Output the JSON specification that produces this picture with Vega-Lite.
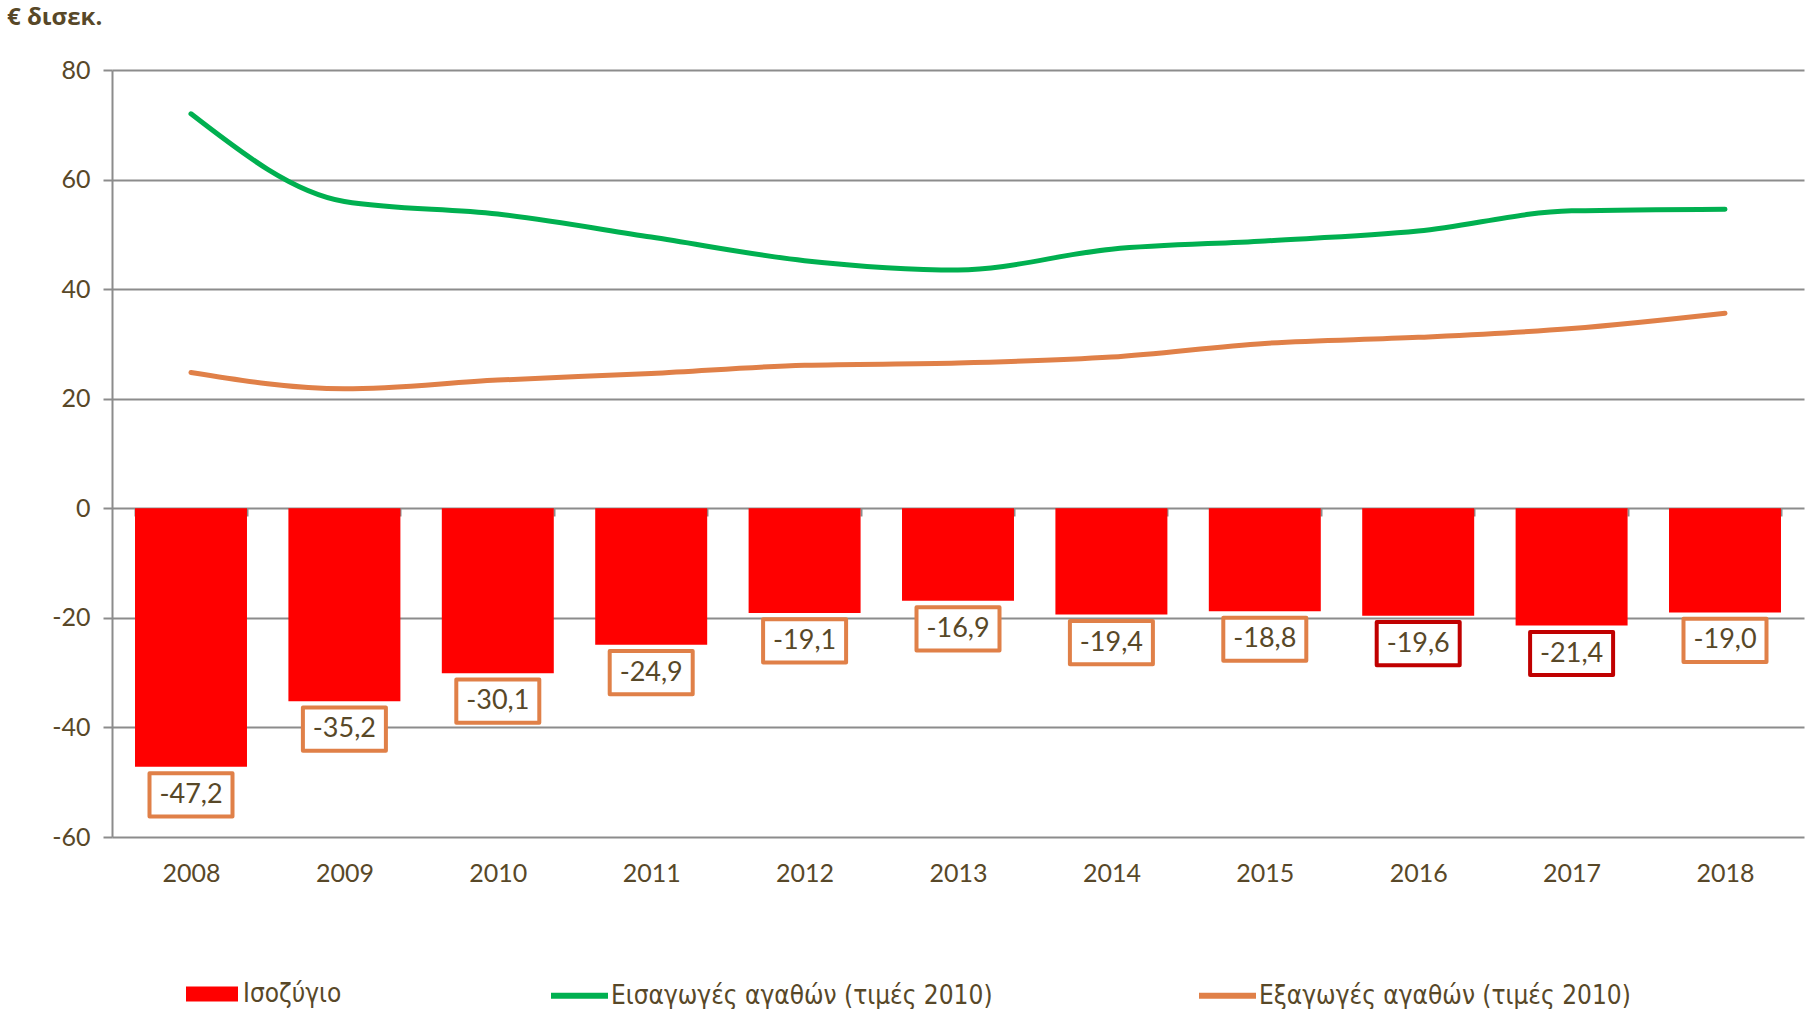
{
  "$schema": "https://vega.github.io/schema/vega-lite/v6.json",
  "width": 1692,
  "height": 767,
  "autosize": {"type": "none"},
  "padding": {"left": 112, "top": 70, "right": 2, "bottom": 172},
  "background": "white",
  "title": {
    "text": "€ δισεκ.",
    "anchor": "start",
    "frame": "group",
    "dx": -105,
    "offset": 28,
    "font": "Open Sans",
    "fontSize": 24,
    "fontWeight": "bold",
    "color": "#584828"
  },
  "config": {
    "locale": {"number": {"decimal": ",", "thousands": ".", "grouping": [3], "currency": ["", " €"], "minus": "-"}},
    "view": {"stroke": null},
    "axis": {"labelFont": "Lato", "labelFontSize": 25, "labelColor": "#584828", "title": null}
  },
  "datasets": {
    "bal": [
      {"year": "2008", "bal": -47.2},
      {"year": "2009", "bal": -35.2},
      {"year": "2010", "bal": -30.1},
      {"year": "2011", "bal": -24.9},
      {"year": "2012", "bal": -19.1},
      {"year": "2013", "bal": -16.9},
      {"year": "2014", "bal": -19.4},
      {"year": "2015", "bal": -18.8},
      {"year": "2016", "bal": -19.6},
      {"year": "2017", "bal": -21.4},
      {"year": "2018", "bal": -19.0}
    ],
    "lines": [
      {"year": "2008", "series": "Εισαγωγές αγαθών (τιμές 2010)", "value": 72.0},
      {"year": "2009", "series": "Εισαγωγές αγαθών (τιμές 2010)", "value": 56.0},
      {"year": "2010", "series": "Εισαγωγές αγαθών (τιμές 2010)", "value": 53.7},
      {"year": "2011", "series": "Εισαγωγές αγαθών (τιμές 2010)", "value": 49.5},
      {"year": "2012", "series": "Εισαγωγές αγαθών (τιμές 2010)", "value": 45.2},
      {"year": "2013", "series": "Εισαγωγές αγαθών (τιμές 2010)", "value": 43.5},
      {"year": "2014", "series": "Εισαγωγές αγαθών (τιμές 2010)", "value": 47.3},
      {"year": "2015", "series": "Εισαγωγές αγαθών (τιμές 2010)", "value": 48.8},
      {"year": "2016", "series": "Εισαγωγές αγαθών (τιμές 2010)", "value": 50.6},
      {"year": "2017", "series": "Εισαγωγές αγαθών (τιμές 2010)", "value": 54.3},
      {"year": "2018", "series": "Εισαγωγές αγαθών (τιμές 2010)", "value": 54.6},
      {"year": "2008", "series": "Εξαγωγές αγαθών (τιμές 2010)", "value": 24.8},
      {"year": "2009", "series": "Εξαγωγές αγαθών (τιμές 2010)", "value": 21.8},
      {"year": "2010", "series": "Εξαγωγές αγαθών (τιμές 2010)", "value": 23.4},
      {"year": "2011", "series": "Εξαγωγές αγαθών (τιμές 2010)", "value": 24.6},
      {"year": "2012", "series": "Εξαγωγές αγαθών (τιμές 2010)", "value": 26.1},
      {"year": "2013", "series": "Εξαγωγές αγαθών (τιμές 2010)", "value": 26.5},
      {"year": "2014", "series": "Εξαγωγές αγαθών (τιμές 2010)", "value": 27.6},
      {"year": "2015", "series": "Εξαγωγές αγαθών (τιμές 2010)", "value": 30.1},
      {"year": "2016", "series": "Εξαγωγές αγαθών (τιμές 2010)", "value": 31.2},
      {"year": "2017", "series": "Εξαγωγές αγαθών (τιμές 2010)", "value": 32.8},
      {"year": "2018", "series": "Εξαγωγές αγαθών (τιμές 2010)", "value": 35.6}
    ]
  },
  "encoding": {
    "x": {
      "field": "year",
      "type": "ordinal",
      "scale": {"paddingInner": 0.27, "paddingOuter": 0.15},
      "axis": {
        "offset": -329,
        "domain": false,
        "grid": false,
        "ticks": true,
        "tickBand": "extent",
        "tickSize": 8,
        "tickWidth": 2,
        "tickColor": "#8C8C8C",
        "labelAngle": 0,
        "labelPadding": 345
      }
    }
  },
  "layer": [
    {
      "data": {"name": "bal"},
      "mark": {"type": "bar"},
      "encoding": {
        "y": {
          "field": "bal",
          "type": "quantitative",
          "scale": {"domain": [-60, 80], "nice": false},
          "axis": {
            "values": [-60, -40, -20, 0, 20, 40, 60, 80],
            "grid": true,
            "gridColor": "#8C8C8C",
            "gridWidth": 2,
            "domain": true,
            "domainColor": "#8C8C8C",
            "domainWidth": 2,
            "tickColor": "#8C8C8C",
            "tickWidth": 2,
            "tickSize": 9,
            "labelPadding": 13,
            "format": "d"
          }
        },
        "fill": {
          "datum": "Ισοζύγιο",
          "type": "nominal",
          "scale": {"range": ["#FF0000"]},
          "legend": {
            "orient": "none",
            "legendX": 74,
            "legendY": 898,
            "title": null,
            "padding": 0,
            "symbolType": "M-1,-0.29H1V0.29H-1Z",
            "symbolSize": 2704,
            "symbolStrokeWidth": 0,
            "labelFont": "DejaVu Sans Condensed",
            "labelFontSize": 26,
            "labelColor": "#584828",
            "labelOffset": 5
          }
        }
      }
    },
    {
      "data": {"name": "lines"},
      "mark": {"type": "line", "interpolate": "monotone", "strokeWidth": 5, "strokeCap": "round"},
      "encoding": {
        "y": {"field": "value", "type": "quantitative"},
        "stroke": {
          "field": "series",
          "type": "nominal",
          "scale": {
            "domain": ["Εισαγωγές αγαθών (τιμές 2010)", "Εξαγωγές αγαθών (τιμές 2010)"],
            "range": ["#00B050", "#E08048"]
          },
          "legend": {
            "orient": "none",
            "direction": "horizontal",
            "legendX": 436,
            "legendY": 894,
            "title": null,
            "padding": 0,
            "symbolType": "stroke",
            "symbolSize": 3249,
            "symbolStrokeWidth": 6,
            "columnPadding": 194,
            "labelFont": "DejaVu Sans Condensed",
            "labelFontSize": 26,
            "labelColor": "#584828",
            "labelOffset": 0,
            "labelLimit": 600
          }
        }
      }
    },
    {
      "data": {"name": "bal"},
      "mark": {
        "type": "point",
        "shape": "M-1,-0.52H1V0.52H-1Z",
        "size": 6889,
        "filled": false,
        "fill": "white",
        "fillOpacity": 1,
        "strokeWidth": 4,
        "strokeJoin": "round",
        "opacity": 1,
        "yOffset": 28
      },
      "encoding": {
        "y": {"field": "bal", "type": "quantitative"},
        "stroke": {
          "condition": {"test": "datum.year == '2016' || datum.year == '2017'", "value": "#C00000"},
          "value": "#E08048"
        }
      }
    },
    {
      "data": {"name": "bal"},
      "mark": {
        "type": "text",
        "font": "Lato",
        "fontSize": 27,
        "color": "#584828",
        "baseline": "middle",
        "align": "center",
        "yOffset": 28
      },
      "encoding": {
        "y": {"field": "bal", "type": "quantitative"},
        "text": {"field": "bal", "type": "quantitative", "format": ".1f"}
      }
    }
  ]
}
